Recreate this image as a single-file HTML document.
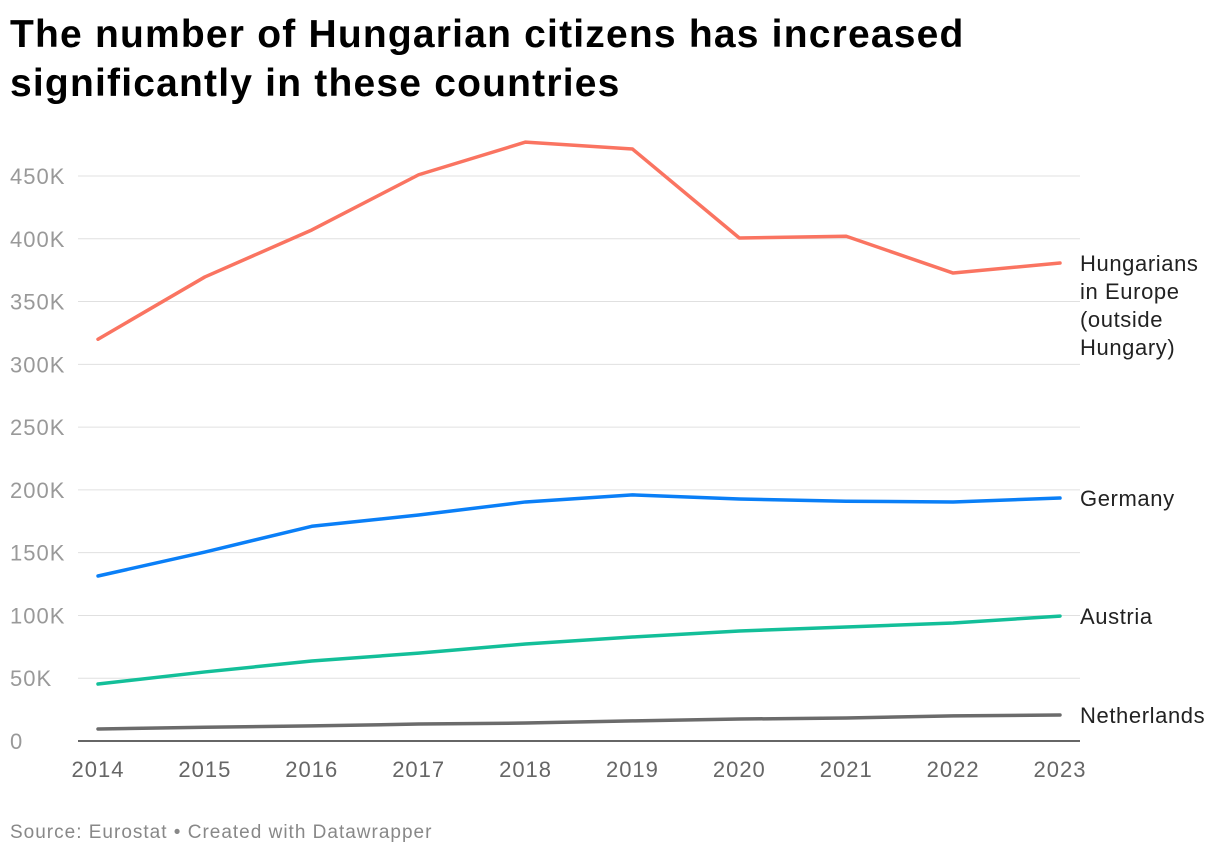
<!DOCTYPE html>
<html><head><meta charset="utf-8"><style>
body{margin:0;background:#fff;font-family:"Liberation Sans",Roboto,sans-serif;}
#wrap{position:relative;width:1220px;height:858px;overflow:hidden}
h1{position:absolute;left:10px;top:10px;margin:0;font-size:39px;line-height:49px;font-weight:bold;color:#000;letter-spacing:1.2px}
#src{position:absolute;left:10px;top:822px;font-size:19px;color:#888;letter-spacing:1px}
</style></head><body>
<div id="wrap">
<h1>The number of Hungarian citizens has increased<br>significantly in these countries</h1>
<svg id="chart" width="1220" height="858" style="position:absolute;left:0;top:0"></svg>
<div id="src">Source: Eurostat • Created with Datawrapper</div>
</div>
<script>
const years=[2014,2015,2016,2017,2018,2019,2020,2021,2022,2023];
const yTicks=[0,50000,100000,150000,200000,250000,300000,350000,400000,450000];
const yTickLabels=["0","50K","100K","150K","200K","250K","300K","350K","400K","450K"];
const europe=[320000,369600,407000,451000,477000,471500,400600,402000,372700,380700];
const germany=[131400,150500,171000,180000,190400,196000,192700,191000,190400,193500];
const austria=[45400,55000,63700,70000,77300,82800,87600,90800,94000,99500];
const netherlands=[9600,11000,12000,13500,14300,16000,17500,18300,20000,20700];
const seriesNames=["Hungarians in Europe (outside Hungary)","Germany","Austria","Netherlands"];
const NS="http://www.w3.org/2000/svg";
const svg=document.getElementById('chart');
const x=v=>98+(v-2014)*(1060-98)/9;
const y=v=>741-v*(741-176)/450000;
function el(t,a){const e=document.createElementNS(NS,t);for(const k in a)e.setAttribute(k,a[k]);svg.appendChild(e);return e;}
yTicks.forEach((t,i)=>{
  if(t>0){const g=el('line',{x1:78,x2:1080,y1:y(t),y2:y(t),stroke:'#e0e0e0','stroke-width':1});
  
  }
  const l=el('text',{x:10,y:y(t)+8,'font-size':22,'letter-spacing':1,fill:'#999','font-family':'Liberation Sans, sans-serif'});
  l.textContent=yTickLabels[i];
  
  
});
const ax=el('line',{x1:78,x2:1080,y1:741,y2:741,stroke:'#333','stroke-width':1.5});


years.forEach(yr=>{
  const t=el('text',{x:x(yr),y:777,'font-size':22,'letter-spacing':1,fill:'#666','text-anchor':'middle','font-family':'Liberation Sans, sans-serif'});
  t.textContent=yr;
  
  
});
const series=[europe,germany,austria,netherlands];
const colors=['#fa7461','#0a7ff7','#13bf99','#6b6b6b'];
const labelLines=[["Hungarians","in Europe","(outside","Hungary)"],["Germany"],["Austria"],["Netherlands"]];
series.forEach((s,i)=>{
  const p=el('path',{d:s.map((v,j)=>(j?'L':'M')+x(years[j])+','+y(v)).join(''),fill:'none',stroke:colors[i],'stroke-width':3.5,'stroke-linejoin':'round','stroke-linecap':'round'});
  
  
  const ly=y(s[s.length-1]);
  labelLines[i].forEach((ln,k)=>{
    const t=el('text',{x:1080,y:ly+8+k*28,'font-size':22,'letter-spacing':0.6,fill:'#222','font-family':'Liberation Sans, sans-serif'});
    t.textContent=ln;
    
    
  });
});
</script>
</body></html>
